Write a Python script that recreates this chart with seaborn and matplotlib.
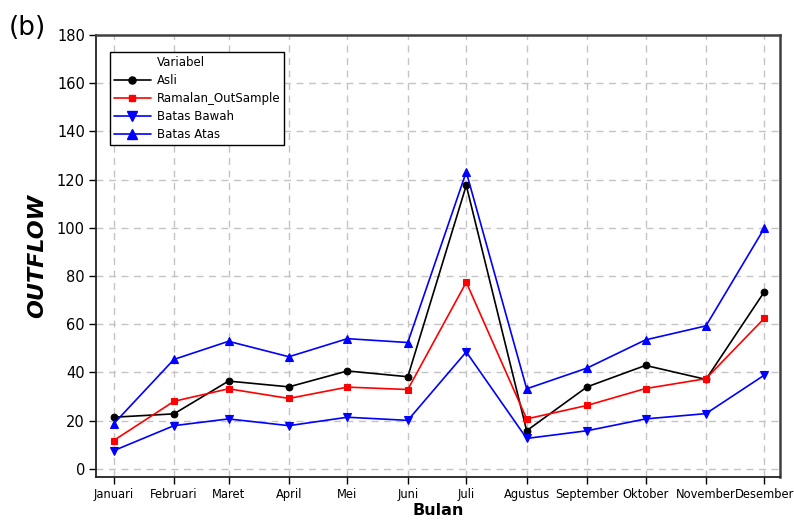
import matplotlib
matplotlib.use("Agg")
import matplotlib.pyplot as plt
from matplotlib.lines import Line2D
import pandas as pd
import seaborn as sns

# Monthly outflow: actual values, out-of-sample forecast and its bounds
bulan = ["Januari", "Februari", "Maret", "April", "Mei", "Juni", "Juli",
         "Agustus", "September", "Oktober", "November", "Desember"]
asli = [21.4, 22.8, 36.4, 34.0, 40.6, 38.2, 117.6, 15.8, 34.0, 42.9, 37.1, 73.5]
ramalan = [11.7, 28.0, 33.2, 29.2, 33.9, 32.9, 77.4, 20.7, 26.3, 33.3, 37.4, 62.5]
batas_bawah = [7.5, 17.9, 20.7, 17.9, 21.4, 20.1, 48.5, 12.6, 15.8, 20.7, 22.9, 38.9]
batas_atas = [18.6, 45.4, 52.9, 46.5, 54.0, 52.4, 123.2, 33.2, 41.8, 53.5, 59.3, 99.9]
y_ticks = list(range(0, 181, 20))

tanggal = pd.date_range("2019-01-01", periods=len(bulan), freq="MS")
df = pd.DataFrame({
    "tanggal": tanggal,
    "Asli": asli,
    "Ramalan_OutSample": ramalan,
    "Batas Bawah": batas_bawah,
    "Batas Atas": batas_atas,
})

sns.set_theme(style="white")
plt.rcParams["font.family"] = ["DejaVu Sans"]
plt.rcParams.update({"text.color": "black", "axes.labelcolor": "black",
                     "xtick.color": "black", "ytick.color": "black"})

fig = plt.figure(figsize=(7.94, 5.2), dpi=100)
ax = fig.add_axes([96 / 794, 1 - 477 / 520, (780 - 96) / 794, (477 - 35) / 520])

series = [
    ("Asli", "black", "o", 4.8),
    ("Ramalan_OutSample", "red", "s", 4.6),
    ("Batas Bawah", "blue", "v", 6.2),
    ("Batas Atas", "blue", "^", 6.2),
]
for name, color, marker, ms in series:
    sns.lineplot(data=df, x="tanggal", y=name, ax=ax, color=color,
                 marker=marker, markersize=ms, linewidth=1.2,
                 markeredgecolor=color, markeredgewidth=0.8,
                 zorder=3, legend=False)

ax.set_ylim(-3.4, 180)
ax.set_yticks(y_ticks)
ax.set_xlim(tanggal[0] - pd.Timedelta(days=9), tanggal[-1] + pd.Timedelta(days=8))
ax.set_xticks(tanggal)
ax.set_xticklabels(bulan, fontsize=8.3)
ax.tick_params(axis="y", labelsize=10.5)
ax.tick_params(axis="both", which="major", direction="out", length=5,
               width=1, color="black", left=True, bottom=True, pad=3)

ax.grid(True, color="#c4c4c4", linestyle=(0, (5, 4)), linewidth=1.0)
ax.set_axisbelow(True)
for side in ["left", "bottom"]:
    ax.spines[side].set_color("#222222")
    ax.spines[side].set_linewidth(1.3)
for side in ["top", "right"]:
    ax.spines[side].set_color("#404040")
    ax.spines[side].set_linewidth(1.8)

ax.set_xlabel("Bulan", fontsize=11.5, fontweight="bold")
ax.xaxis.set_label_coords(0.5, -0.058)
ax.set_ylabel("OUTFLOW", fontsize=16, fontweight="bold", fontstyle="italic")
ax.yaxis.set_label_coords(-0.0716, 0.5)

# Legend with the heading placed in the label column
handles = [Line2D([], [], linestyle="none")]
labels = ["Variabel"]
for name, color, marker, ms in series:
    handles.append(Line2D([], [], color=color, marker=marker, markersize=ms + 0.3,
                          linewidth=1.2, markeredgecolor=color))
    labels.append(name)
leg = ax.legend(handles, labels, loc="upper left",
                bbox_to_anchor=((110 - 96) / 684, (477 - 52) / 442),
                borderaxespad=0, frameon=True, fancybox=False,
                edgecolor="black", framealpha=1, fontsize=8.5,
                handlelength=3.1, handletextpad=0.5, labelspacing=0.42,
                borderpad=0.35)
leg.get_frame().set_linewidth(1.0)

fig.text(9 / 794, 1 - 15 / 520, "(b)", fontsize=19, ha="left", va="top")

fig.savefig("out.png", dpi=100)
